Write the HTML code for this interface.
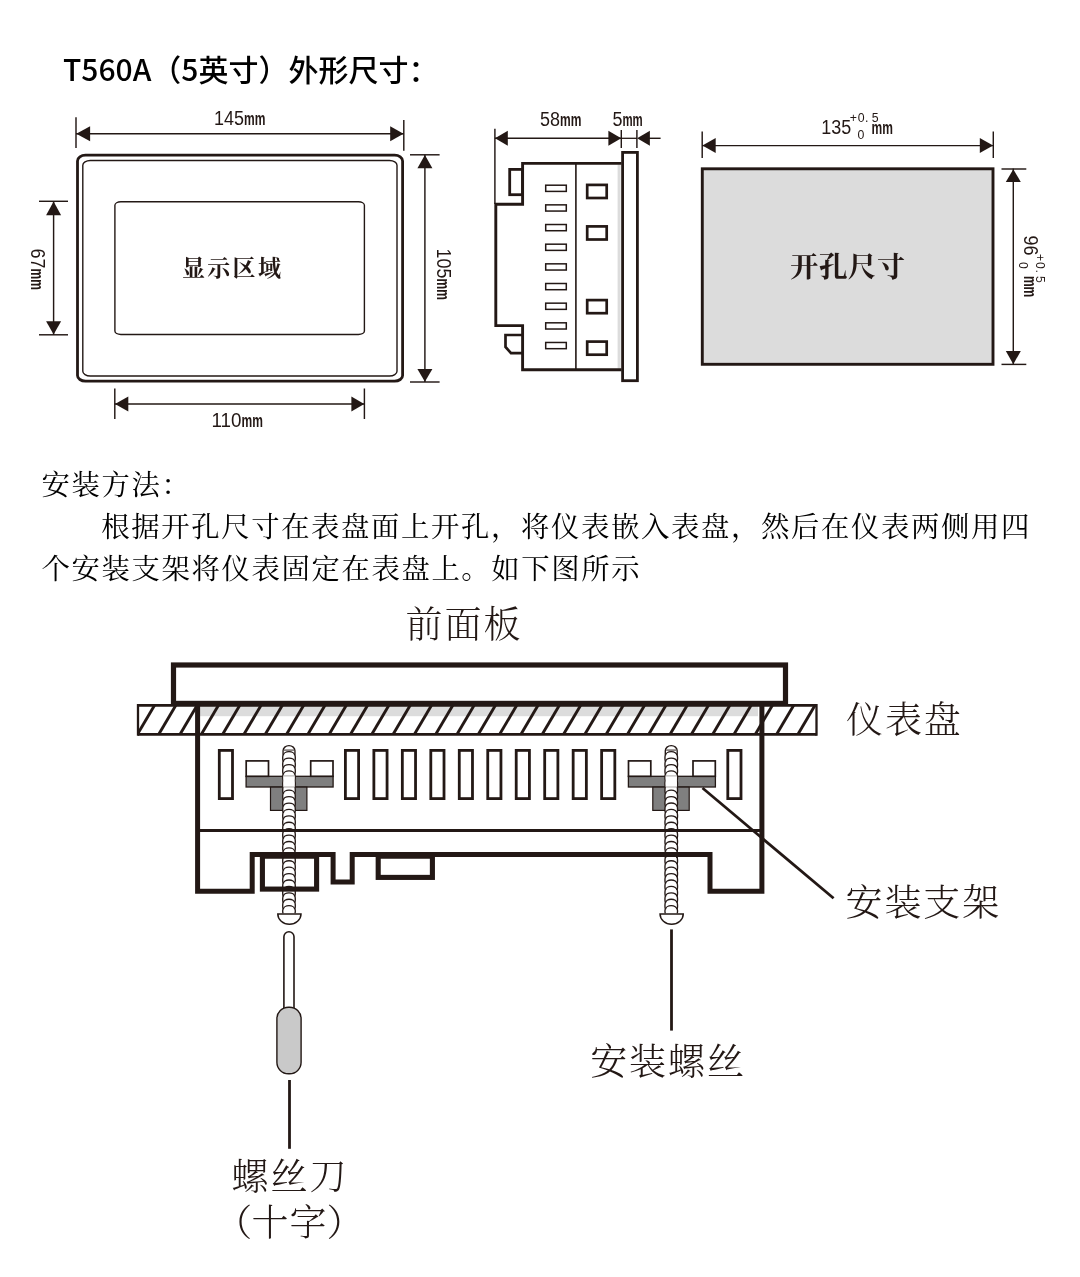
<!DOCTYPE html>
<html lang="zh-CN">
<head>
<meta charset="utf-8">
<title>T560A 外形尺寸</title>
<style>
html,body{margin:0;padding:0;background:#fff;}
body{width:1080px;height:1277px;overflow:hidden;position:relative;}
svg{position:absolute;left:0;top:0;display:block;will-change:transform;}
text{fill:#231815;}
.title{font-size:30px;font-weight:500;fill:#000;}
.title{font-family:"Noto Sans CJK SC","Liberation Sans",sans-serif;}
.dim{font-family:"Liberation Sans","Noto Sans CJK SC",sans-serif;font-size:20px;}
.mm{font-weight:700;font-size:17.5px;}
.tol{font-family:"Liberation Sans","Noto Sans CJK SC",sans-serif;font-size:12.3px;}
.body{font-family:"Liberation Serif","Noto Serif CJK SC",serif;font-size:28.4px;letter-spacing:1.6px;font-weight:400;fill:#000;}
.lbl{font-family:"Liberation Serif","Noto Serif CJK SC",serif;font-size:37px;letter-spacing:1.9px;font-weight:300;}
.lblb{font-family:"Liberation Serif","Noto Serif CJK SC",serif;font-weight:700;}
</style>
</head>
<body>
<svg width="1080" height="1277" viewBox="0 0 1080 1277">
<text x="63" y="81" class="title">T560A（5英寸）外形尺寸：</text>
<line x1="76.00" y1="117.30" x2="76.00" y2="148.00" stroke="#231815" stroke-width="1.45" />
<line x1="403.80" y1="120.00" x2="403.80" y2="150.70" stroke="#231815" stroke-width="1.45" />
<line x1="76.00" y1="133.80" x2="403.80" y2="133.80" stroke="#231815" stroke-width="1.45" />
<polygon points="76.30,133.80 90.10,126.30 90.10,141.30" fill="#231815"/>
<polygon points="403.50,133.80 390.20,126.30 390.20,141.30" fill="#231815"/>
<text transform="translate(214.00 124.75) rotate(0)" class="dim"><tspan textLength="30.00" lengthAdjust="spacingAndGlyphs">145</tspan><tspan class="mm" textLength="21.40" lengthAdjust="spacingAndGlyphs">mm</tspan></text>
<rect x="77.50" y="155.10" width="325.10" height="226.10" rx="8" ry="5.8" fill="none" stroke="#231815" stroke-width="2.8"/>
<rect x="82.80" y="160.50" width="314.20" height="215.50" rx="7.5" ry="4.8" fill="none" stroke="#231815" stroke-width="1.4"/>
<rect x="114.90" y="201.80" width="249.50" height="132.70" rx="6" ry="3.5" fill="none" stroke="#231815" stroke-width="1.4"/>
<text x="182" y="275.8" class="lblb" font-size="23" letter-spacing="2.3">显示区域</text>
<line x1="39.00" y1="201.30" x2="68.00" y2="201.30" stroke="#231815" stroke-width="1.45" />
<line x1="39.00" y1="334.80" x2="68.00" y2="334.80" stroke="#231815" stroke-width="1.45" />
<line x1="53.60" y1="201.30" x2="53.60" y2="334.80" stroke="#231815" stroke-width="1.45" />
<polygon points="53.60,201.50 46.10,215.30 61.10,215.30" fill="#231815"/>
<polygon points="53.60,334.60 46.10,321.30 61.10,321.30" fill="#231815"/>
<text transform="translate(31.30 248.60) rotate(90)" class="dim"><tspan textLength="20.00" lengthAdjust="spacingAndGlyphs">67</tspan><tspan class="mm" textLength="21.40" lengthAdjust="spacingAndGlyphs">mm</tspan></text>
<line x1="410.00" y1="154.80" x2="439.60" y2="154.80" stroke="#231815" stroke-width="1.45" />
<line x1="410.00" y1="382.00" x2="439.60" y2="382.00" stroke="#231815" stroke-width="1.45" />
<line x1="424.90" y1="154.80" x2="424.90" y2="382.00" stroke="#231815" stroke-width="1.45" />
<polygon points="424.90,155.00 417.40,168.30 432.40,168.30" fill="#231815"/>
<polygon points="424.90,381.80 417.40,368.90 432.40,368.90" fill="#231815"/>
<text transform="translate(437.00 248.60) rotate(90)" class="dim"><tspan textLength="30.00" lengthAdjust="spacingAndGlyphs">105</tspan><tspan class="mm" textLength="21.40" lengthAdjust="spacingAndGlyphs">mm</tspan></text>
<line x1="114.80" y1="388.50" x2="114.80" y2="419.00" stroke="#231815" stroke-width="1.45" />
<line x1="364.40" y1="388.50" x2="364.40" y2="419.00" stroke="#231815" stroke-width="1.45" />
<line x1="114.80" y1="404.00" x2="364.40" y2="404.00" stroke="#231815" stroke-width="1.45" />
<polygon points="115.00,404.00 128.30,396.50 128.30,411.50" fill="#231815"/>
<polygon points="364.20,404.00 351.40,396.50 351.40,411.50" fill="#231815"/>
<text transform="translate(211.50 426.50) rotate(0)" class="dim"><tspan textLength="30.00" lengthAdjust="spacingAndGlyphs">110</tspan><tspan class="mm" textLength="21.40" lengthAdjust="spacingAndGlyphs">mm</tspan></text>
<line x1="494.90" y1="128.70" x2="494.90" y2="204.00" stroke="#231815" stroke-width="1.45" />
<line x1="494.90" y1="138.30" x2="621.30" y2="138.30" stroke="#231815" stroke-width="1.45" />
<polygon points="495.00,138.30 507.80,130.80 507.80,145.80" fill="#231815"/>
<polygon points="621.20,138.30 608.40,130.80 608.40,145.80" fill="#231815"/>
<line x1="621.30" y1="130.00" x2="621.30" y2="148.00" stroke="#231815" stroke-width="1.45" />
<line x1="636.90" y1="130.00" x2="636.90" y2="148.00" stroke="#231815" stroke-width="1.45" />
<line x1="621.30" y1="138.30" x2="636.90" y2="138.30" stroke="#231815" stroke-width="1.3" />
<polygon points="637.10,138.30 649.90,130.80 649.90,145.80" fill="#231815"/>
<line x1="649.00" y1="138.30" x2="660.60" y2="138.30" stroke="#231815" stroke-width="1.45" />
<text transform="translate(540.00 126.20) rotate(0)" class="dim"><tspan textLength="20.00" lengthAdjust="spacingAndGlyphs">58</tspan><tspan class="mm" textLength="21.40" lengthAdjust="spacingAndGlyphs">mm</tspan></text>
<text transform="translate(612.40 126.20) rotate(0)" class="dim"><tspan textLength="10.00" lengthAdjust="spacingAndGlyphs">5</tspan><tspan class="mm" textLength="20.30" lengthAdjust="spacingAndGlyphs">mm</tspan></text>
<rect x="617.6" y="164.5" width="3" height="204" fill="#dcdcdc"/>
<path d="M621.5,163.4 H522.6 V204.2 H495.8 V325.6 H522.6 V369.7 H621.5" fill="none" stroke="#231815" stroke-width="2.9" stroke-linejoin="miter"/>
<rect x="622.60" y="152.40" width="14.80" height="228.30" rx="0" ry="0" fill="none" stroke="#231815" stroke-width="2.8"/>
<rect x="509.70" y="169.40" width="12.90" height="25.30" rx="0" ry="0" fill="none" stroke="#231815" stroke-width="2.8"/>
<path d="M522.6,335 H505.5 V347 L511,353.2 H522.6" fill="none" stroke="#231815" stroke-width="2.7"/>
<line x1="575.90" y1="164.00" x2="575.90" y2="369.00" stroke="#231815" stroke-width="1.6" />
<rect x="545.70" y="185.20" width="20.60" height="6.20" rx="0" ry="0" fill="none" stroke="#231815" stroke-width="1.5"/>
<rect x="545.70" y="204.86" width="20.60" height="6.20" rx="0" ry="0" fill="none" stroke="#231815" stroke-width="1.5"/>
<rect x="545.70" y="224.52" width="20.60" height="6.20" rx="0" ry="0" fill="none" stroke="#231815" stroke-width="1.5"/>
<rect x="545.70" y="244.18" width="20.60" height="6.20" rx="0" ry="0" fill="none" stroke="#231815" stroke-width="1.5"/>
<rect x="545.70" y="263.84" width="20.60" height="6.20" rx="0" ry="0" fill="none" stroke="#231815" stroke-width="1.5"/>
<rect x="545.70" y="283.50" width="20.60" height="6.20" rx="0" ry="0" fill="none" stroke="#231815" stroke-width="1.5"/>
<rect x="545.70" y="303.16" width="20.60" height="6.20" rx="0" ry="0" fill="none" stroke="#231815" stroke-width="1.5"/>
<rect x="545.70" y="322.82" width="20.60" height="6.20" rx="0" ry="0" fill="none" stroke="#231815" stroke-width="1.5"/>
<rect x="545.70" y="342.48" width="20.60" height="6.20" rx="0" ry="0" fill="none" stroke="#231815" stroke-width="1.5"/>
<rect x="587.20" y="184.90" width="19.50" height="13.10" rx="0" ry="0" fill="none" stroke="#231815" stroke-width="2.7"/>
<rect x="587.20" y="226.40" width="19.50" height="13.10" rx="0" ry="0" fill="none" stroke="#231815" stroke-width="2.7"/>
<rect x="587.20" y="300.10" width="19.50" height="13.10" rx="0" ry="0" fill="none" stroke="#231815" stroke-width="2.7"/>
<rect x="587.20" y="341.60" width="19.50" height="13.10" rx="0" ry="0" fill="none" stroke="#231815" stroke-width="2.7"/>
<rect x="702.30" y="168.80" width="290.70" height="195.50" rx="0" ry="0" fill="#dcdcdc" stroke="#231815" stroke-width="2.9"/>
<line x1="702.20" y1="131.50" x2="702.20" y2="158.00" stroke="#231815" stroke-width="1.45" />
<line x1="993.30" y1="131.50" x2="993.30" y2="158.00" stroke="#231815" stroke-width="1.45" />
<line x1="702.20" y1="145.60" x2="993.30" y2="145.60" stroke="#231815" stroke-width="1.45" />
<polygon points="702.40,145.60 715.70,138.10 715.70,153.10" fill="#231815"/>
<polygon points="993.10,145.60 979.80,138.10 979.80,153.10" fill="#231815"/>
<line x1="1001.50" y1="169.00" x2="1026.30" y2="169.00" stroke="#231815" stroke-width="1.45" />
<line x1="1001.50" y1="364.40" x2="1026.30" y2="364.40" stroke="#231815" stroke-width="1.45" />
<line x1="1013.30" y1="168.60" x2="1013.30" y2="364.40" stroke="#231815" stroke-width="1.45" />
<polygon points="1013.30,169.20 1005.80,182.10 1020.80,182.10" fill="#231815"/>
<polygon points="1013.30,364.20 1005.80,350.90 1020.80,350.90" fill="#231815"/>
<g transform="translate(821.30 133.70) rotate(0)"><text class="dim"><tspan textLength="30.00" lengthAdjust="spacingAndGlyphs">135</tspan></text><text class="tol" y="-12" x="28.5 36.5 43.8 50.5">+0.5</text><text class="tol" y="4.8" x="36.3">0</text><text class="dim" x="50.3"><tspan class="mm" textLength="21.4" lengthAdjust="spacingAndGlyphs">mm</tspan></text></g>
<g transform="translate(1024.00 235.60) rotate(90)"><text class="dim"><tspan textLength="20.00" lengthAdjust="spacingAndGlyphs">96</tspan></text><text class="tol" y="-12" x="18.5 26.5 33.8 40.5">+0.5</text><text class="tol" y="4.8" x="26.3">0</text><text class="dim" x="40.3"><tspan class="mm" textLength="21.4" lengthAdjust="spacingAndGlyphs">mm</tspan></text></g>
<text x="790" y="277" class="lblb" font-size="28.5" letter-spacing="0.4">开孔尺寸</text>
<text x="41.5" y="495.3" class="body">安装方法：</text>
<text x="101.2" y="537.2" class="body">根据开孔尺寸在表盘面上开孔，将仪表嵌入表盘，然后在仪表两侧用四</text>
<text x="41.5" y="579.1" class="body">个安装支架将仪表固定在表盘上。如下图所示</text>
<text x="405.6" y="638" class="lbl">前面板</text>
<text x="846" y="733.4" class="lbl">仪表盘</text>
<text x="845.5" y="915.5" class="lbl">安装支架</text>
<text x="590.2" y="1074.7" class="lbl">安装螺丝</text>
<text x="231.6" y="1190.2" class="lbl">螺丝刀</text>
<text y="1236.2" class="lbl" x="215.2 251.5 289.5 326.4">（十字）</text>
<defs><clipPath id="hc"><rect x="138" y="705.4" width="678.5" height="29"/></clipPath></defs>
<rect x="200" y="706" width="558" height="10.2" fill="#dcdcdc"/>
<g clip-path="url(#hc)" stroke="#231815" stroke-width="2.9"><line x1="136.36" y1="700" x2="112.76" y2="740"/><line x1="157.67" y1="700" x2="134.06" y2="740"/><line x1="178.97" y1="700" x2="155.37" y2="740"/><line x1="200.28" y1="700" x2="176.68" y2="740"/><line x1="221.58" y1="700" x2="197.98" y2="740"/><line x1="242.89" y1="700" x2="219.29" y2="740"/><line x1="264.19" y1="700" x2="240.59" y2="740"/><line x1="285.50" y1="700" x2="261.90" y2="740"/><line x1="306.81" y1="700" x2="283.21" y2="740"/><line x1="328.11" y1="700" x2="304.51" y2="740"/><line x1="349.42" y1="700" x2="325.82" y2="740"/><line x1="370.73" y1="700" x2="347.13" y2="740"/><line x1="392.03" y1="700" x2="368.43" y2="740"/><line x1="413.34" y1="700" x2="389.74" y2="740"/><line x1="434.64" y1="700" x2="411.04" y2="740"/><line x1="455.95" y1="700" x2="432.35" y2="740"/><line x1="477.25" y1="700" x2="453.66" y2="740"/><line x1="498.56" y1="700" x2="474.96" y2="740"/><line x1="519.87" y1="700" x2="496.27" y2="740"/><line x1="541.17" y1="700" x2="517.57" y2="740"/><line x1="562.48" y1="700" x2="538.88" y2="740"/><line x1="583.78" y1="700" x2="560.18" y2="740"/><line x1="605.09" y1="700" x2="581.49" y2="740"/><line x1="626.40" y1="700" x2="602.80" y2="740"/><line x1="647.70" y1="700" x2="624.10" y2="740"/><line x1="669.01" y1="700" x2="645.41" y2="740"/><line x1="690.31" y1="700" x2="666.71" y2="740"/><line x1="711.62" y1="700" x2="688.02" y2="740"/><line x1="732.93" y1="700" x2="709.33" y2="740"/><line x1="754.23" y1="700" x2="730.63" y2="740"/><line x1="775.54" y1="700" x2="751.94" y2="740"/><line x1="796.85" y1="700" x2="773.25" y2="740"/><line x1="818.15" y1="700" x2="794.55" y2="740"/><line x1="839.46" y1="700" x2="815.86" y2="740"/></g>
<path d="M138,705.4 H816.5 M138,734.3 H816.5" fill="none" stroke="#231815" stroke-width="2.8"/>
<path d="M138,704 V735.7 M816.5,704 V735.7" fill="none" stroke="#231815" stroke-width="2.3"/>
<rect x="173.50" y="665.00" width="612.00" height="38.40" rx="0" ry="0" fill="#fff" stroke="#231815" stroke-width="5.2"/>
<rect x="246.10" y="776.3" width="87" height="10.7" fill="#7f7f7f" stroke="#231815" stroke-width="1.3"/><rect x="270.50" y="787.1" width="36.4" height="23.3" fill="#7f7f7f" stroke="#231815" stroke-width="1.2"/><rect x="246.20" y="760.9" width="22.3" height="15.4" fill="#fff" stroke="#231815" stroke-width="1.7"/><rect x="310.70" y="760.9" width="22.3" height="15.4" fill="#fff" stroke="#231815" stroke-width="1.7"/>
<rect x="628.40" y="776.3" width="87" height="10.7" fill="#7f7f7f" stroke="#231815" stroke-width="1.3"/><rect x="652.80" y="787.1" width="36.4" height="23.3" fill="#7f7f7f" stroke="#231815" stroke-width="1.2"/><rect x="628.50" y="760.9" width="22.3" height="15.4" fill="#fff" stroke="#231815" stroke-width="1.7"/><rect x="693.00" y="760.9" width="22.3" height="15.4" fill="#fff" stroke="#231815" stroke-width="1.7"/>
<path d="M283.05,913.40 Q282.35,911.13 283.05,908.86 Q282.35,905.65 283.05,902.44 Q282.35,899.24 283.05,896.03 Q282.35,892.82 283.05,889.61 Q282.35,886.41 283.05,883.20 Q282.35,879.99 283.05,876.78 Q282.35,873.58 283.05,870.37 Q282.35,867.16 283.05,863.95 Q282.35,860.75 283.05,857.54 Q282.35,854.33 283.05,851.12 Q282.35,847.92 283.05,844.71 Q282.35,841.50 283.05,838.29 Q282.35,835.09 283.05,831.88 Q282.35,828.67 283.05,825.46 Q282.35,822.26 283.05,819.05 Q282.35,815.84 283.05,812.63 Q282.35,809.43 283.05,806.22 Q282.35,803.01 283.05,799.80 Q282.35,796.60 283.05,793.39 Q282.35,790.18 283.05,786.97 Q282.35,783.77 283.05,780.56 Q282.35,777.35 283.05,774.14 Q282.35,770.94 283.05,767.73 Q282.35,764.52 283.05,761.31 Q282.35,758.11 283.05,754.90 V750.80 A5.95,5.2 0 0 1 294.95,750.80 V754.90 Q295.65,758.11 294.95,761.31 Q295.65,764.52 294.95,767.73 Q295.65,770.94 294.95,774.14 Q295.65,777.35 294.95,780.56 Q295.65,783.77 294.95,786.97 Q295.65,790.18 294.95,793.39 Q295.65,796.60 294.95,799.80 Q295.65,803.01 294.95,806.22 Q295.65,809.43 294.95,812.63 Q295.65,815.84 294.95,819.05 Q295.65,822.26 294.95,825.46 Q295.65,828.67 294.95,831.88 Q295.65,835.09 294.95,838.29 Q295.65,841.50 294.95,844.71 Q295.65,847.92 294.95,851.12 Q295.65,854.33 294.95,857.54 Q295.65,860.75 294.95,863.95 Q295.65,867.16 294.95,870.37 Q295.65,873.58 294.95,876.78 Q295.65,879.99 294.95,883.20 Q295.65,886.41 294.95,889.61 Q295.65,892.82 294.95,896.03 Q295.65,899.24 294.95,902.44 Q295.65,905.65 294.95,908.86 Q295.65,911.13 294.95,913.40 " fill="#fff" stroke="#231815" stroke-width="1.35"/><line x1="283.85" y1="750.1" x2="294.15" y2="750.1" stroke="#6a6260" stroke-width="1.4"/><path d="M283.35,755.30 A5.65,3.6 0 0 1 294.65,755.30" fill="none" stroke="#231815" stroke-width="1.3"/><path d="M283.35,761.71 A5.65,3.6 0 0 1 294.65,761.71" fill="none" stroke="#231815" stroke-width="1.3"/><path d="M283.35,768.13 A5.65,3.6 0 0 1 294.65,768.13" fill="none" stroke="#231815" stroke-width="1.3"/><path d="M283.35,774.54 A5.65,3.6 0 0 1 294.65,774.54" fill="none" stroke="#231815" stroke-width="1.3"/><path d="M283.35,793.79 A5.65,3.6 0 0 1 294.65,793.79" fill="none" stroke="#231815" stroke-width="1.3"/><path d="M283.35,800.20 A5.65,3.6 0 0 1 294.65,800.20" fill="none" stroke="#231815" stroke-width="1.3"/><path d="M283.35,806.62 A5.65,3.6 0 0 1 294.65,806.62" fill="none" stroke="#231815" stroke-width="1.3"/><path d="M283.35,813.03 A5.65,3.6 0 0 1 294.65,813.03" fill="none" stroke="#231815" stroke-width="1.3"/><path d="M283.35,819.45 A5.65,3.6 0 0 1 294.65,819.45" fill="none" stroke="#231815" stroke-width="1.3"/><path d="M283.35,825.86 A5.65,3.6 0 0 1 294.65,825.86" fill="none" stroke="#231815" stroke-width="1.3"/><path d="M283.35,832.28 A5.65,3.6 0 0 1 294.65,832.28" fill="none" stroke="#231815" stroke-width="1.3"/><path d="M283.35,838.69 A5.65,3.6 0 0 1 294.65,838.69" fill="none" stroke="#231815" stroke-width="1.3"/><path d="M283.35,845.11 A5.65,3.6 0 0 1 294.65,845.11" fill="none" stroke="#231815" stroke-width="1.3"/><path d="M283.35,851.52 A5.65,3.6 0 0 1 294.65,851.52" fill="none" stroke="#231815" stroke-width="1.3"/><path d="M283.35,857.94 A5.65,3.6 0 0 1 294.65,857.94" fill="none" stroke="#231815" stroke-width="1.3"/><path d="M283.35,864.35 A5.65,3.6 0 0 1 294.65,864.35" fill="none" stroke="#231815" stroke-width="1.3"/><path d="M283.35,870.77 A5.65,3.6 0 0 1 294.65,870.77" fill="none" stroke="#231815" stroke-width="1.3"/><path d="M283.35,877.18 A5.65,3.6 0 0 1 294.65,877.18" fill="none" stroke="#231815" stroke-width="1.3"/><path d="M283.35,883.60 A5.65,3.6 0 0 1 294.65,883.60" fill="none" stroke="#231815" stroke-width="1.3"/><path d="M283.35,890.01 A5.65,3.6 0 0 1 294.65,890.01" fill="none" stroke="#231815" stroke-width="1.3"/><path d="M283.35,896.43 A5.65,3.6 0 0 1 294.65,896.43" fill="none" stroke="#231815" stroke-width="1.3"/><path d="M283.35,902.84 A5.65,3.6 0 0 1 294.65,902.84" fill="none" stroke="#231815" stroke-width="1.3"/><path d="M283.35,909.26 A5.65,3.6 0 0 1 294.65,909.26" fill="none" stroke="#231815" stroke-width="1.3"/><rect x="283.40" y="775.7" width="11.2" height="11.4" fill="#fff"/><path d="M283.40,775.9 h11.2 M283.40,787 h11.2" stroke="#8a8482" stroke-width="0.7" fill="none"/><path d="M277.80,914 h23.2 a11.6,10.2 0 0 1 -23.2,0 z" fill="#fff" stroke="#231815" stroke-width="1.5"/>
<path d="M665.30,913.40 Q664.60,911.13 665.30,908.86 Q664.60,905.65 665.30,902.44 Q664.60,899.24 665.30,896.03 Q664.60,892.82 665.30,889.61 Q664.60,886.41 665.30,883.20 Q664.60,879.99 665.30,876.78 Q664.60,873.58 665.30,870.37 Q664.60,867.16 665.30,863.95 Q664.60,860.75 665.30,857.54 Q664.60,854.33 665.30,851.12 Q664.60,847.92 665.30,844.71 Q664.60,841.50 665.30,838.29 Q664.60,835.09 665.30,831.88 Q664.60,828.67 665.30,825.46 Q664.60,822.26 665.30,819.05 Q664.60,815.84 665.30,812.63 Q664.60,809.43 665.30,806.22 Q664.60,803.01 665.30,799.80 Q664.60,796.60 665.30,793.39 Q664.60,790.18 665.30,786.97 Q664.60,783.77 665.30,780.56 Q664.60,777.35 665.30,774.14 Q664.60,770.94 665.30,767.73 Q664.60,764.52 665.30,761.31 Q664.60,758.11 665.30,754.90 V750.80 A5.95,5.2 0 0 1 677.20,750.80 V754.90 Q677.90,758.11 677.20,761.31 Q677.90,764.52 677.20,767.73 Q677.90,770.94 677.20,774.14 Q677.90,777.35 677.20,780.56 Q677.90,783.77 677.20,786.97 Q677.90,790.18 677.20,793.39 Q677.90,796.60 677.20,799.80 Q677.90,803.01 677.20,806.22 Q677.90,809.43 677.20,812.63 Q677.90,815.84 677.20,819.05 Q677.90,822.26 677.20,825.46 Q677.90,828.67 677.20,831.88 Q677.90,835.09 677.20,838.29 Q677.90,841.50 677.20,844.71 Q677.90,847.92 677.20,851.12 Q677.90,854.33 677.20,857.54 Q677.90,860.75 677.20,863.95 Q677.90,867.16 677.20,870.37 Q677.90,873.58 677.20,876.78 Q677.90,879.99 677.20,883.20 Q677.90,886.41 677.20,889.61 Q677.90,892.82 677.20,896.03 Q677.90,899.24 677.20,902.44 Q677.90,905.65 677.20,908.86 Q677.90,911.13 677.20,913.40 " fill="#fff" stroke="#231815" stroke-width="1.35"/><line x1="666.10" y1="750.1" x2="676.40" y2="750.1" stroke="#6a6260" stroke-width="1.4"/><path d="M665.60,755.30 A5.65,3.6 0 0 1 676.90,755.30" fill="none" stroke="#231815" stroke-width="1.3"/><path d="M665.60,761.71 A5.65,3.6 0 0 1 676.90,761.71" fill="none" stroke="#231815" stroke-width="1.3"/><path d="M665.60,768.13 A5.65,3.6 0 0 1 676.90,768.13" fill="none" stroke="#231815" stroke-width="1.3"/><path d="M665.60,774.54 A5.65,3.6 0 0 1 676.90,774.54" fill="none" stroke="#231815" stroke-width="1.3"/><path d="M665.60,793.79 A5.65,3.6 0 0 1 676.90,793.79" fill="none" stroke="#231815" stroke-width="1.3"/><path d="M665.60,800.20 A5.65,3.6 0 0 1 676.90,800.20" fill="none" stroke="#231815" stroke-width="1.3"/><path d="M665.60,806.62 A5.65,3.6 0 0 1 676.90,806.62" fill="none" stroke="#231815" stroke-width="1.3"/><path d="M665.60,813.03 A5.65,3.6 0 0 1 676.90,813.03" fill="none" stroke="#231815" stroke-width="1.3"/><path d="M665.60,819.45 A5.65,3.6 0 0 1 676.90,819.45" fill="none" stroke="#231815" stroke-width="1.3"/><path d="M665.60,825.86 A5.65,3.6 0 0 1 676.90,825.86" fill="none" stroke="#231815" stroke-width="1.3"/><path d="M665.60,832.28 A5.65,3.6 0 0 1 676.90,832.28" fill="none" stroke="#231815" stroke-width="1.3"/><path d="M665.60,838.69 A5.65,3.6 0 0 1 676.90,838.69" fill="none" stroke="#231815" stroke-width="1.3"/><path d="M665.60,845.11 A5.65,3.6 0 0 1 676.90,845.11" fill="none" stroke="#231815" stroke-width="1.3"/><path d="M665.60,851.52 A5.65,3.6 0 0 1 676.90,851.52" fill="none" stroke="#231815" stroke-width="1.3"/><path d="M665.60,857.94 A5.65,3.6 0 0 1 676.90,857.94" fill="none" stroke="#231815" stroke-width="1.3"/><path d="M665.60,864.35 A5.65,3.6 0 0 1 676.90,864.35" fill="none" stroke="#231815" stroke-width="1.3"/><path d="M665.60,870.77 A5.65,3.6 0 0 1 676.90,870.77" fill="none" stroke="#231815" stroke-width="1.3"/><path d="M665.60,877.18 A5.65,3.6 0 0 1 676.90,877.18" fill="none" stroke="#231815" stroke-width="1.3"/><path d="M665.60,883.60 A5.65,3.6 0 0 1 676.90,883.60" fill="none" stroke="#231815" stroke-width="1.3"/><path d="M665.60,890.01 A5.65,3.6 0 0 1 676.90,890.01" fill="none" stroke="#231815" stroke-width="1.3"/><path d="M665.60,896.43 A5.65,3.6 0 0 1 676.90,896.43" fill="none" stroke="#231815" stroke-width="1.3"/><path d="M665.60,902.84 A5.65,3.6 0 0 1 676.90,902.84" fill="none" stroke="#231815" stroke-width="1.3"/><path d="M665.60,909.26 A5.65,3.6 0 0 1 676.90,909.26" fill="none" stroke="#231815" stroke-width="1.3"/><rect x="665.65" y="775.7" width="11.2" height="11.4" fill="#fff"/><path d="M665.65,775.9 h11.2 M665.65,787 h11.2" stroke="#8a8482" stroke-width="0.7" fill="none"/><path d="M660.05,914 h23.2 a11.6,10.2 0 0 1 -23.2,0 z" fill="#fff" stroke="#231815" stroke-width="1.5"/>
<path d="M197.6,704 V891.2 H252.2 V854.6 H333.1 V882 H352.2 V854.6 H710 V891.2 H761.9 V704" fill="none" stroke="#231815" stroke-width="5"/>
<line x1="199.00" y1="830.50" x2="760.00" y2="830.50" stroke="#231815" stroke-width="2.8" />
<rect x="262.40" y="856.20" width="54.20" height="32.90" rx="0" ry="0" fill="none" stroke="#231815" stroke-width="5.1"/>
<rect x="378.20" y="856.20" width="54.20" height="21.20" rx="0" ry="0" fill="none" stroke="#231815" stroke-width="5.1"/>
<rect x="219.30" y="750.40" width="13.20" height="48.20" rx="0" ry="0" fill="none" stroke="#231815" stroke-width="2.8"/>
<rect x="345.40" y="750.40" width="13.20" height="48.20" rx="0" ry="0" fill="none" stroke="#231815" stroke-width="2.8"/>
<rect x="373.87" y="750.40" width="13.20" height="48.20" rx="0" ry="0" fill="none" stroke="#231815" stroke-width="2.8"/>
<rect x="402.34" y="750.40" width="13.20" height="48.20" rx="0" ry="0" fill="none" stroke="#231815" stroke-width="2.8"/>
<rect x="430.81" y="750.40" width="13.20" height="48.20" rx="0" ry="0" fill="none" stroke="#231815" stroke-width="2.8"/>
<rect x="459.28" y="750.40" width="13.20" height="48.20" rx="0" ry="0" fill="none" stroke="#231815" stroke-width="2.8"/>
<rect x="487.75" y="750.40" width="13.20" height="48.20" rx="0" ry="0" fill="none" stroke="#231815" stroke-width="2.8"/>
<rect x="516.22" y="750.40" width="13.20" height="48.20" rx="0" ry="0" fill="none" stroke="#231815" stroke-width="2.8"/>
<rect x="544.69" y="750.40" width="13.20" height="48.20" rx="0" ry="0" fill="none" stroke="#231815" stroke-width="2.8"/>
<rect x="573.16" y="750.40" width="13.20" height="48.20" rx="0" ry="0" fill="none" stroke="#231815" stroke-width="2.8"/>
<rect x="601.63" y="750.40" width="13.20" height="48.20" rx="0" ry="0" fill="none" stroke="#231815" stroke-width="2.8"/>
<rect x="727.80" y="750.40" width="13.20" height="48.20" rx="0" ry="0" fill="none" stroke="#231815" stroke-width="2.8"/>
<line x1="702.50" y1="788.00" x2="833.60" y2="898.30" stroke="#231815" stroke-width="2.8" />
<path d="M283.9,1008 V936.8 a5.05,5.05 0 0 1 10.1,0 V1008" fill="#fff" stroke="#231815" stroke-width="1.6"/>
<rect x="276.9" y="1007.2" width="24.2" height="66.6" rx="11.5" fill="#c9c9c9" stroke="#231815" stroke-width="1.4"/>
<line x1="289.50" y1="1080.00" x2="289.50" y2="1148.80" stroke="#231815" stroke-width="2.8" />
<line x1="671.50" y1="929.40" x2="671.50" y2="1030.60" stroke="#231815" stroke-width="2.8" />
</svg>
</body>
</html>
